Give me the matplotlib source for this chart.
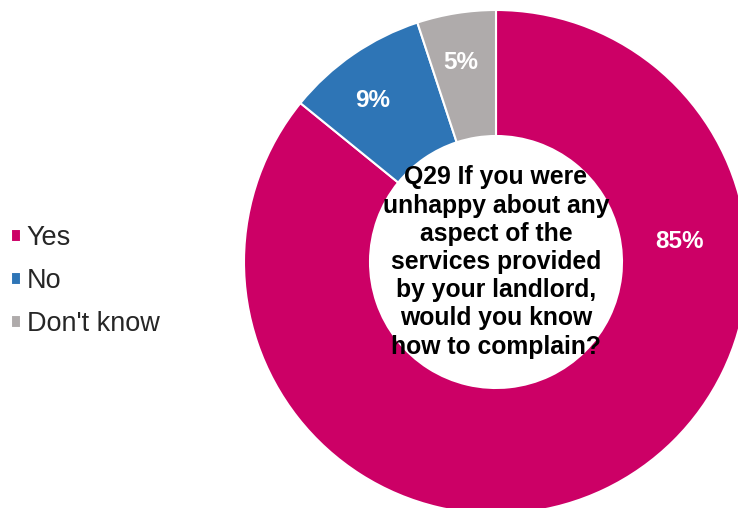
import matplotlib.pyplot as plt

plt.rcParams['font.family'] = ['Liberation Sans', 'DejaVu Sans']

# survey answers for Q29
categories = ['Yes', 'No', "Don't know"]
percents = [85, 9, 5]
colours = ['#CC0066', '#2E75B6', '#AFABAB']
# where Excel put the data labels (pie units, radius = 1)
label_pos = [(0.73, 0.08), (-0.49, 0.64), (-0.14, 0.79)]

question = ("Q29 If you were\nunhappy about any\naspect of the\nservices provided\n"
            "by your landlord,\nwould you know\nhow to complain?")

fig = plt.figure(figsize=(7.38, 5.08), dpi=100)
# axes placed so the ring sits where it does in the original (slightly cut at the bottom)
ax = fig.add_axes([244 / 738, -6 / 508, 504 / 738, 504 / 508])

wedges, _ = ax.pie(percents, colors=colours, startangle=90, counterclock=False,
                   radius=1.0, wedgeprops=dict(width=0.5, edgecolor='white', linewidth=1.5))

for (x, y), p in zip(label_pos, percents):
    ax.text(x, y, f'{p}%', ha='center', va='center', color='white',
            fontsize=17.5, fontweight='bold')

ax.text(0, 0, question, ha='center', va='center', fontsize=17.8,
        fontweight='bold', linespacing=1.22)

ax.set_xlim(-1, 1)
ax.set_ylim(-1, 1)
ax.set_aspect('equal')
ax.axis('off')

fig.legend(wedges, categories, loc='center left', bbox_to_anchor=(0.0, 227 / 508),
           frameon=False, fontsize=19.5, handlelength=0.37, handleheight=0.37,
           handletextpad=0.22, labelspacing=0.63, borderaxespad=0.0,
           labelcolor='#262626')

fig.savefig('out.png', dpi=100)
